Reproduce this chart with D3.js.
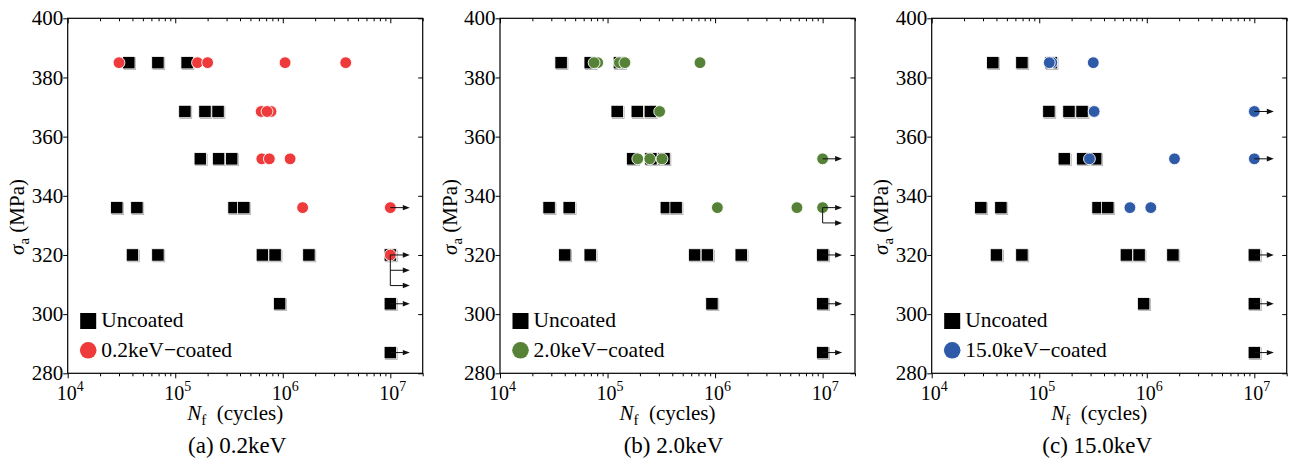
<!DOCTYPE html>
<html>
<head>
<meta charset="utf-8">
<script src="https://cdn.jsdelivr.net/npm/d3@7/dist/d3.min.js"></script>
<style>
  html, body { margin: 0; padding: 0; background: #fff; }
  svg { display: block; }
</style>
</head>
<body>
<svg id="chart" width="1290" height="459"></svg>
<script>
// S-N data: stress amplitude (MPa) and cycles to failure, grouped by stress level
const uncoated = [
  { s: 385,   n: [37000, 69000, 129000] },
  { s: 368.5, n: [123000, 189000, 250000] },
  { s: 352.5, n: [171000, 253000, 335000] },
  { s: 336,   n: [28600, 44000, 352000, 434000] },
  { s: 320,   n: [40000, 69000, 646000, 848000, 1750000, 1e7] },
  { s: 303.5, n: [935000, 1e7] },
  { s: 287,   n: [1e7] }
];
const uncoatedRunouts = [ { s: 320, count: 1 }, { s: 303.5, count: 1 }, { s: 287, count: 1 } ];

const coated02 = [
  { s: 385,   n: [30000, 161000, 200000, 1050000, 3850000] },
  { s: 368.5, n: [630000, 777000, 714000] },
  { s: 352.5, n: [638000, 750000, 1170000] },
  { s: 336,   n: [1530000, 1e7] },
  { s: 320,   n: [1e7] }
];
const runouts02 = [ { s: 336, count: 1 }, { s: 320, count: 3 } ];

const coated20 = [
  { s: 385,   n: [81000, 75000, 129000, 145000, 724000] },
  { s: 368.5, n: [305000] },
  { s: 352.5, n: [191000, 247000, 321000, 1e7] },
  { s: 336,   n: [1050000, 5770000, 1e7] }
];
const runouts20 = [ { s: 352.5, count: 1 }, { s: 336, count: 2 } ];

const coated150 = [
  { s: 385,   n: [131000, 124000, 318000] },
  { s: 368.5, n: [324000, 1e7] },
  { s: 352.5, n: [293000, 1810000, 1e7] },
  { s: 336,   n: [697000, 1090000] }
];
const runouts150 = [ { s: 368.5, count: 1 }, { s: 352.5, count: 1 } ];

const yTicks = [280, 300, 320, 340, 360, 380, 400];
const xMajor = [1e4, 1e5, 1e6, 1e7];
const xExponents = ["4", "5", "6", "7"];

const panels = [
  { coated: coated02,  runouts: runouts02,  color: "#ee3a3a", legend: "0.2keV\u2212coated",  caption: "(a) 0.2keV",  capShift: -8 },
  { coated: coated20,  runouts: runouts20,  color: "#558237", legend: "2.0keV\u2212coated",  caption: "(b) 2.0keV",  capShift: -4 },
  { coated: coated150, runouts: runouts150, color: "#2f5aa8", legend: "15.0keV\u2212coated", caption: "(c) 15.0keV", capShift: -12 }
];

const FONT = "'Liberation Serif'";

const svg = d3.select("#chart");
const W = 355, H = 355, plotTop = 18.3;
const lefts = [67.7, 500, 931.7];

const x = d3.scaleLog().domain([1e4, 2e7]).range([0, W]);
const y = d3.scaleLinear().domain([280, 400]).range([H, 0]);

const xMinor = [];
for (let d = 1e4; d < 2e7; d *= 10) {
  for (let k = 2; k <= 9; k++) { const v = d * k; if (v <= 2e7) xMinor.push(v); }
}

const SQ = 12.4, R = 5.9, ARROW = 19.5, BR = 15.3;

function styleAxis(g) {
  g.select(".domain").remove();
  g.selectAll("line").attr("stroke", "#000").attr("stroke-width", 1);
  g.selectAll("text").remove();
}

function label(sel) {
  return sel.append("text").style("font-family", FONT).attr("fill", "#000");
}

panels.forEach((p, i) => {
  const g = svg.append("g").attr("transform", `translate(${lefts[i]},${plotTop})`);

  // axes: left/bottom ticks outward, top/right ticks inward
  g.append("g").call(d3.axisLeft(y).tickValues(yTicks).tickSize(4.5)).call(styleAxis);
  g.append("g").attr("transform", `translate(${W},0)`)
    .call(d3.axisLeft(y).tickValues(yTicks).tickSize(4.5)).call(styleAxis);
  g.append("g").attr("transform", `translate(0,${H})`)
    .call(d3.axisBottom(x).tickValues(xMajor).tickSize(5)).call(styleAxis);
  g.append("g").attr("transform", `translate(0,${H})`)
    .call(d3.axisBottom(x).tickValues(xMinor).tickSize(3)).call(styleAxis);
  g.append("g").call(d3.axisBottom(x).tickValues(xMajor).tickSize(5)).call(styleAxis);
  g.append("g").call(d3.axisBottom(x).tickValues(xMinor).tickSize(3)).call(styleAxis);

  g.append("rect").attr("x", 0).attr("y", 0).attr("width", W).attr("height", H)
    .attr("fill", "none").attr("stroke", "#000").attr("stroke-width", 1.2);

  // y tick labels
  yTicks.forEach(v => {
    label(g).attr("x", -4.5).attr("y", y(v)).attr("dy", "0.34em")
      .attr("text-anchor", "end").style("font-size", "21px").text(v);
  });

  // x tick labels: 10 with superscript exponent
  xMajor.forEach((v, k) => {
    const t = label(g).attr("x", x(v) + 2.5).attr("y", H + 26.5)
      .attr("text-anchor", "middle").style("font-size", "20px");
    t.append("tspan").text("10");
    t.append("tspan").attr("dy", -8.5).style("font-size", "14px").text(xExponents[k]);
  });

  // axis titles
  const xt = label(g).attr("x", W / 2 - 10).attr("y", H + 46.5)
    .attr("text-anchor", "middle").style("font-size", "21px");
  xt.append("tspan").style("font-style", "italic").text("N");
  xt.append("tspan").attr("dy", 5).style("font-size", "15px").text("f");
  xt.append("tspan").attr("dy", -5).text("\u2002(cycles)");

  const yt = label(g)
    .attr("transform", `translate(-43.5,${217 - plotTop}) rotate(-90)`)
    .attr("text-anchor", "middle").style("font-size", "21px");
  yt.append("tspan").style("font-style", "italic").text("\u03c3");
  yt.append("tspan").attr("dy", 5).style("font-size", "15px").text("a");
  yt.append("tspan").attr("dy", -5).text(" (MPa)");

  // caption
  label(svg).attr("x", lefts[i] + W / 2 + p.capShift).attr("y", 452.5)
    .attr("text-anchor", "middle").style("font-size", "23px").text(p.caption);

  // uncoated squares with a light shadow edge
  const sq = uncoated.flatMap(r => r.n.map(n => ({ n, s: r.s })));
  const sqG = g.append("g");
  sq.forEach(d => {
    const cx = x(d.n), cy = y(d.s);
    sqG.append("rect").attr("x", cx - SQ / 2 + 1).attr("y", cy - SQ / 2 + 1)
      .attr("width", SQ).attr("height", SQ).attr("fill", "#999");
    sqG.append("rect").attr("x", cx - SQ / 2).attr("y", cy - SQ / 2)
      .attr("width", SQ).attr("height", SQ).attr("fill", "#000")
      .attr("stroke", "#fff").attr("stroke-width", 0.8);
  });

  // coated circles
  const cc = p.coated.flatMap(r => r.n.map(n => ({ n, s: r.s })));
  g.append("g").selectAll("circle").data(cc).join("circle")
    .attr("cx", d => x(d.n)).attr("cy", d => y(d.s)).attr("r", R)
    .attr("fill", p.color).attr("stroke", "#fff").attr("stroke-width", 0.9);

  // run-out arrows (no failure at 1e7 cycles)
  const arrows = g.append("g");
  const drawRunout = r => {
    const x0 = x(1e7), y0 = y(r.s);
    if (r.count > 1) {
      arrows.append("line").attr("x1", x0).attr("x2", x0).attr("y1", y0).attr("y2", y0 + (r.count - 1) * BR)
        .attr("stroke", "#111").attr("stroke-width", 1);
    }
    for (let k = 0; k < r.count; k++) {
      const yy = y0 + k * BR;
      arrows.append("line").attr("x1", x0).attr("x2", x0 + ARROW - 5).attr("y1", yy).attr("y2", yy)
        .attr("stroke", "#111").attr("stroke-width", 1);
      arrows.append("path")
        .attr("d", `M${x0 + ARROW - 7},${yy - 2.7}L${x0 + ARROW},${yy}L${x0 + ARROW - 7},${yy + 2.7}Z`)
        .attr("fill", "#111");
    }
  };
  uncoatedRunouts.forEach(r => { if (!p.runouts.some(q => q.s === r.s)) drawRunout(r); });
  p.runouts.forEach(drawRunout);

  // legend
  const lg = g.append("g");
  lg.append("rect").attr("x", 12.5).attr("y", 313 - plotTop).attr("width", 16).attr("height", 16).attr("fill", "#000");
  label(lg).attr("x", 33.5).attr("y", 327.5 - plotTop).style("font-size", "21.5px").text("Uncoated");
  lg.append("circle").attr("cx", 20.5).attr("cy", 350.3 - plotTop).attr("r", 8.3).attr("fill", p.color);
  label(lg).attr("x", 33.5).attr("y", 357 - plotTop).style("font-size", "21.5px").text(p.legend);
});
</script>
</body>
</html>
